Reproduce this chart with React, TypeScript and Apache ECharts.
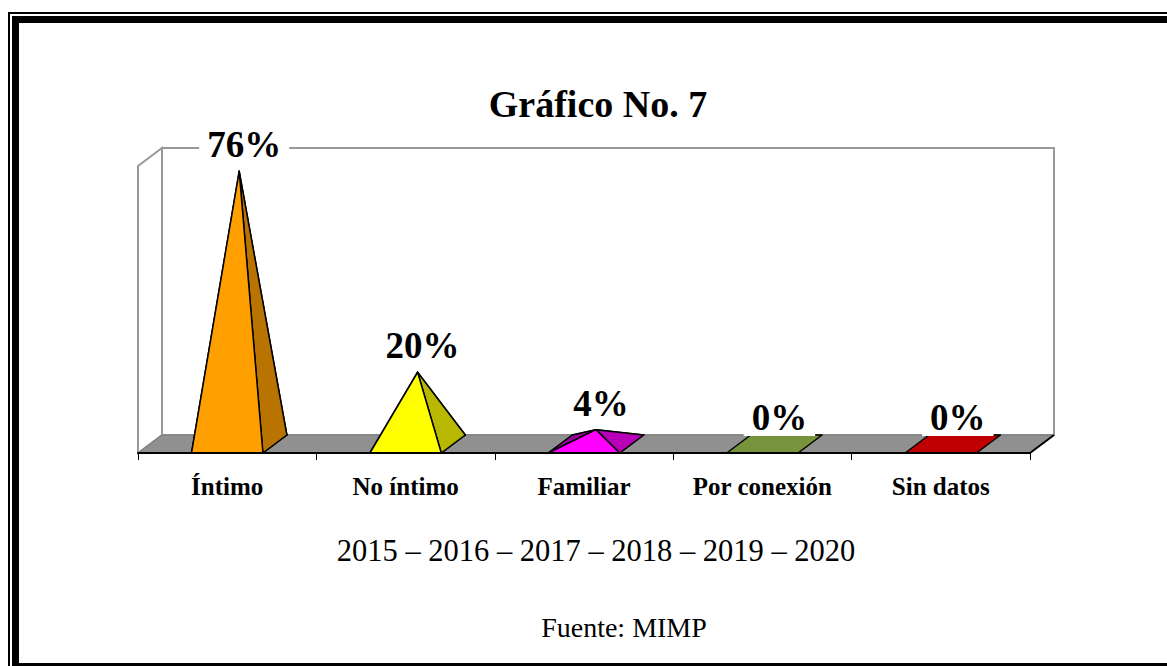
import React, { useEffect, useRef } from "react";
import * as echarts from "echarts";

const categories = ["Íntimo", "No íntimo", "Familiar", "Por conexión", "Sin datos"];
const values = [76, 20, 4, 0, 0];
const valueLabels = ["76%", "20%", "4%", "0%", "0%"];
const colors = ["#FFA000", "#FFFF00", "#FF00FF", "#77933C", "#C00000"];
const titleText = "Gráfico No. 7";
const yearsText = "2015 – 2016 – 2017 – 2018 – 2019 – 2020";
const sourceText = "Fuente: MIMP";
const yMax = 80;

const SERIF = '"Liberation Serif", "Times New Roman", serif';
const DX = 24;
const DY = -18;

function shade(hex: string, f: number): string {
  const n = parseInt(hex.slice(1), 16);
  const r = Math.round(((n >> 16) & 255) * f);
  const g = Math.round(((n >> 8) & 255) * f);
  const b = Math.round((n & 255) * f);
  return "rgb(" + r + "," + g + "," + b + ")";
}

export default function App() {
  const ref = useRef<HTMLDivElement>(null);
  useEffect(() => {
    const chart = echarts.init(ref.current as HTMLDivElement, null, { renderer: "svg" });
    const W = 1167;
    const H = 666;
    chart.setOption({
      animation: false,
      backgroundColor: "#ffffff",
      grid: { left: 138, right: W - 1030, top: 166, bottom: H - 453, containLabel: false },
      xAxis: {
        type: "category",
        data: categories,
        z: 3,
        axisLine: { show: true, lineStyle: { color: "#000", width: 2 } },
        axisTick: { show: true, length: 7, lineStyle: { color: "#000", width: 1 } },
        axisLabel: {
          interval: 0,
          fontFamily: SERIF,
          fontWeight: "bold",
          fontSize: 25,
          color: "#000",
          margin: 21,
        },
        splitLine: { show: false },
      },
      yAxis: {
        type: "value",
        min: 0,
        max: yMax,
        show: false,
        splitLine: { show: false },
      },
      graphic: [
        { type: "rect", shape: { x: 8, y: 12, width: W, height: 2 }, style: { fill: "#000" } },
        { type: "rect", shape: { x: 8, y: 12, width: 2, height: H }, style: { fill: "#000" } },
        { type: "rect", shape: { x: 12, y: 16, width: W, height: 7 }, style: { fill: "#000" } },
        { type: "rect", shape: { x: 12, y: 16, width: 7, height: H }, style: { fill: "#000" } },
        { type: "rect", shape: { x: 12, y: 663, width: W, height: 4 }, style: { fill: "#000" } },
        {
          type: "text",
          x: 598,
          y: 104,
          style: {
            text: titleText,
            font: "bold 38px " + SERIF,
            fill: "#000",
            align: "center",
            verticalAlign: "middle",
          },
        },
        {
          type: "text",
          x: 596,
          y: 551,
          style: {
            text: yearsText,
            font: "30.5px " + SERIF,
            fill: "#000",
            align: "center",
            verticalAlign: "middle",
          },
        },
        {
          type: "text",
          x: 624,
          y: 627,
          style: {
            text: sourceText,
            font: "28px " + SERIF,
            fill: "#000",
            align: "center",
            verticalAlign: "middle",
          },
        },
      ],
      series: [
        {
          type: "custom",
          name: "scene",
          z: 1,
          silent: true,
          data: [[0, 0]],
          renderItem: (params: any, api: any) => {
            const bw = api.size([1, 0])[0];
            const p0 = api.coord([0, 0]);
            const left = p0[0] - bw / 2;
            const y0 = p0[1];
            const right = api.coord([categories.length - 1, 0])[0] + bw / 2;
            const top = api.coord([0, yMax])[1];
            const wallStyle = { fill: "#fff", stroke: "#999", lineWidth: 2 };
            return {
              type: "group",
              children: [
                {
                  type: "polygon",
                  shape: {
                    points: [
                      [left, y0],
                      [left, top],
                      [left + DX, top + DY],
                      [left + DX, y0 + DY],
                    ],
                  },
                  style: wallStyle,
                },
                {
                  type: "rect",
                  shape: { x: left + DX, y: top + DY, width: right - left, height: y0 - top },
                  style: wallStyle,
                },
                {
                  type: "polygon",
                  shape: {
                    points: [
                      [left, y0],
                      [left + DX, y0 + DY],
                      [right + DX, y0 + DY],
                      [right, y0],
                    ],
                  },
                  style: { fill: "#909090", stroke: "#7a7a7a", lineWidth: 1 },
                },
                {
                  type: "line",
                  shape: { x1: right, y1: y0, x2: right + DX, y2: y0 + DY },
                  style: { stroke: "#000", lineWidth: 2 },
                },
              ],
            };
          },
        },
        {
          type: "custom",
          name: "pyramids",
          z: 2,
          data: values.map((v, i) => [i, v]),
          renderItem: (params: any, api: any) => {
            const i = params.dataIndex;
            const v = api.value(1);
            const pc = api.coord([i, 0]);
            const cx = pc[0];
            const fy = pc[1];
            const ty = api.coord([i, v])[1];
            const h = fy - ty;
            const bw = api.size([1, 0])[0] * 0.4;
            const FL = [cx - bw / 2, fy];
            const FR = [cx + bw / 2, fy];
            const BR = [cx + bw / 2 + DX, fy + DY];
            const BL = [cx - bw / 2 + DX, fy + DY];
            const apex = [cx + DX / 2, fy + DY / 2 - h];
            const c = colors[i];
            const stroke = { stroke: "#000", lineWidth: 1.5, lineJoin: "round" };
            const children: any[] = [
              {
                type: "polygon",
                shape: { points: [FL, FR, BR, BL] },
                style: { fill: c, ...stroke },
              },
            ];
            if (h > 0.5) {
              children.push(
                { type: "polygon", shape: { points: [BL, BR, apex] }, style: { fill: shade(c, 0.55), ...stroke } },
                { type: "polygon", shape: { points: [FL, BL, apex] }, style: { fill: shade(c, 0.6), ...stroke } },
                { type: "polygon", shape: { points: [FR, BR, apex] }, style: { fill: shade(c, 0.72), ...stroke } },
                { type: "polygon", shape: { points: [FL, FR, apex] }, style: { fill: c, ...stroke } }
              );
            }
            children.push({
              type: "text",
              x: apex[0] + 5,
              y: apex[1] - 8,
              style: {
                text: valueLabels[i],
                font: "bold 37px " + SERIF,
                fill: "#000",
                align: "center",
                verticalAlign: "bottom",
                backgroundColor: "#fff",
                padding: [0, 8, 0, 8],
              },
            });
            return { type: "group", children };
          },
        },
      ],
    });
    return () => chart.dispose();
  }, []);
  return (
    <div
      ref={ref}
      style={{ position: "fixed", left: 0, top: 0, width: 1167, height: 666, background: "#fff" }}
    />
  );
}
